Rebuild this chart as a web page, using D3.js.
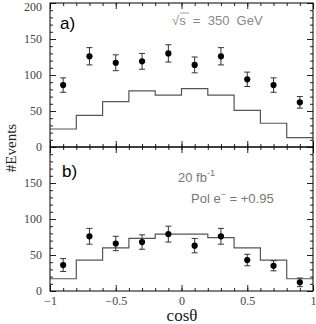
<!DOCTYPE html>
<html>
<head>
<meta charset="utf-8">
<script src="https://cdn.jsdelivr.net/npm/d3@7"></script>
<style>
  body { margin: 0; background: #fff; }
</style>
</head>
<body>
<div id="chart"></div>
<script>
// Data
var binEdges = [-1, -0.8, -0.6, -0.4, -0.2, 0, 0.2, 0.4, 0.6, 0.8, 1];
var pointX = [-0.9, -0.7, -0.5, -0.3, -0.1, 0.1, 0.3, 0.5, 0.7, 0.9];

// panel a)
var histA = [25, 44, 63, 78, 72, 81, 72, 51, 33, 13];
var dataA = [86, 126, 117, 119, 130, 114, 126, 94, 86, 62];
var errA = [10, 12, 11, 11, 12, 11, 12, 10, 10, 8];

// panel b)
var histB = [17, 43, 60, 73, 79, 79, 74, 60, 43, 17];
var dataB = [36, 76, 66, 68, 79, 63, 76, 43, 35, 12];
var errB = [9, 11, 10, 10, 11, 10, 11, 8, 7, 6];

var xTicks = [-1, -0.5, 0, 0.5, 1];
var yTicksA = [0, 50, 100, 150, 200];
var yTicksB = [0, 50, 100, 150];

var svgWidth = 316;
var svgHeight = 324;

var left = 50, right = 313;
var topA = 3, mid = 147, bottom = 291;

var svg = d3.select("#chart")
    .append("svg")
    .attr("width", svgWidth)
    .attr("height", svgHeight);

var x = d3.scaleLinear().domain([-1, 1]).range([left, right]);
var yA = d3.scaleLinear().domain([0, 200]).range([mid, topA]);
var yB = d3.scaleLinear().domain([0, 200]).range([bottom, mid]);

function drawPanel(y, hist, vals, errs, yTicks, showXLabels) {
    var g = svg.append("g");

    // histogram as a step line
    var steps = [];
    hist.forEach(function(h, i) {
        steps.push([binEdges[i], h]);
        steps.push([binEdges[i + 1], h]);
    });
    g.append("path")
        .datum(steps)
        .attr("fill", "none")
        .attr("stroke", "#555")
        .attr("stroke-width", 1.2)
        .attr("d", d3.line().x(d => x(d[0])).y(d => y(d[1])));

    // error bars
    var eb = g.append("g")
        .attr("stroke", "#333")
        .attr("stroke-width", 1);
    pointX.forEach(function(px, i) {
        var cx = x(px);
        eb.append("line")
            .attr("x1", cx).attr("x2", cx)
            .attr("y1", y(vals[i] - errs[i])).attr("y2", y(vals[i] + errs[i]));
        eb.append("line")
            .attr("x1", cx - 3).attr("x2", cx + 3)
            .attr("y1", y(vals[i] - errs[i])).attr("y2", y(vals[i] - errs[i]));
        eb.append("line")
            .attr("x1", cx - 3).attr("x2", cx + 3)
            .attr("y1", y(vals[i] + errs[i])).attr("y2", y(vals[i] + errs[i]));
    });

    // points
    g.selectAll("circle")
        .data(vals)
        .enter()
        .append("circle")
        .attr("cx", (d, i) => x(pointX[i]))
        .attr("cy", d => y(d))
        .attr("r", 3.1)
        .attr("fill", "#000");

    // inward ticks on all sides
    var yMinor = d3.range(0, 201, 10);
    var xMinor = d3.range(-10, 11).map(d => d / 10);

    var bottomAxis = d3.axisBottom(x).tickValues(xMinor).tickSize(-3).tickFormat("");
    var bottomMajor = d3.axisBottom(x).tickValues(xTicks).tickSize(-6).tickPadding(5)
        .tickFormat(showXLabels ? (d => d3.format("")(d).replace("-", "\u2212")) : "");
    var topAxis = d3.axisTop(x).tickValues(xMinor).tickSize(-3).tickFormat("");
    var topMajor = d3.axisTop(x).tickValues(xTicks).tickSize(-6).tickFormat("");
    var leftMinor = d3.axisLeft(y).tickValues(yMinor).tickSize(-3).tickFormat("");
    var leftMajor = d3.axisLeft(y).tickValues(yTicks).tickSize(-6).tickPadding(8);
    var rightMinor = d3.axisRight(y).tickValues(yMinor).tickSize(-3).tickFormat("");
    var rightMajor = d3.axisRight(y).tickValues(yTicks).tickSize(-6).tickFormat("");

    var y0 = y.range()[0], y1 = y.range()[1];
    [
        [bottomAxis, 0, y0], [bottomMajor, 0, y0],
        [topAxis, 0, y1], [topMajor, 0, y1],
        [leftMinor, left, 0], [leftMajor, left, 0],
        [rightMinor, right, 0], [rightMajor, right, 0]
    ].forEach(function(a) {
        var ax = g.append("g")
            .attr("transform", `translate(${a[1]}, ${a[2]})`)
            .call(a[0]);
        ax.select(".domain").remove();
        ax.selectAll("line").attr("stroke", "#222");
        ax.selectAll("text")
            .attr("font-family", "'Liberation Serif', serif")
            .attr("font-size", 12)
            .attr("fill", "#444");
    });

    // frame
    g.append("rect")
        .attr("x", left).attr("y", y1)
        .attr("width", right - left).attr("height", y0 - y1)
        .attr("fill", "none")
        .attr("stroke", "#000")
        .attr("stroke-width", 1);

    return g;
}

var gA = drawPanel(yA, histA, dataA, errA, yTicksA, false);
var gB = drawPanel(yB, histB, dataB, errB, yTicksB, true);

// keep the top "200" label inside the page
gA.selectAll(".tick text")
    .filter(d => d === 200)
    .attr("dy", "0.62em");

// annotations
var sans = "'Liberation Sans', Arial, sans-serif";

svg.append("text")
    .attr("x", 60).attr("y", 29)
    .attr("font-family", sans).attr("font-size", 17)
    .attr("fill", "#000")
    .text("a)");

svg.append("text")
    .attr("x", 62).attr("y", 177)
    .attr("font-family", sans).attr("font-size", 17)
    .attr("fill", "#000")
    .text("b)");

svg.append("text")
    .attr("x", 172).attr("y", 25)
    .attr("font-family", sans).attr("font-size", 13)
    .attr("fill", "#888")
    .attr("xml:space", "preserve")
    .text("\u221As  =  350  GeV");
svg.append("line")
    .attr("x1", 180).attr("x2", 189)
    .attr("y1", 13).attr("y2", 13)
    .attr("stroke", "#888").attr("stroke-width", 0.8);

var lum = svg.append("text")
    .attr("x", 178).attr("y", 182)
    .attr("font-family", sans).attr("font-size", 13)
    .attr("fill", "#777");
lum.append("tspan").text("20 fb");
lum.append("tspan").attr("dy", -6).attr("font-size", 9).text("-1");

var pol = svg.append("text")
    .attr("x", 191).attr("y", 203)
    .attr("font-family", sans).attr("font-size", 13)
    .attr("fill", "#777");
pol.append("tspan").text("Pol e");
pol.append("tspan").attr("dy", -6).attr("font-size", 9).text("\u2212");
pol.append("tspan").attr("dy", 6).text(" = +0.95");

// axis titles
svg.append("text")
    .attr("transform", "translate(16, 148) rotate(-90)")
    .attr("text-anchor", "middle")
    .attr("font-family", "'Liberation Serif', serif")
    .attr("font-size", 15)
    .attr("fill", "#222")
    .text("#Events");

svg.append("text")
    .attr("x", 182).attr("y", 321)
    .attr("text-anchor", "middle")
    .attr("font-family", "'Liberation Serif', serif")
    .attr("font-size", 17)
    .attr("fill", "#222")
    .text("cos\u03B8");
</script>
</body>
</html>
